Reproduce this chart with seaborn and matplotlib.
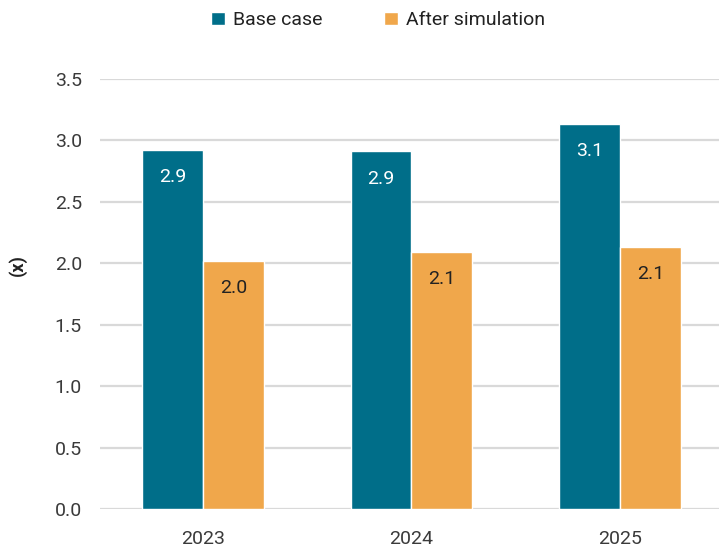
import matplotlib
matplotlib.use("Agg")
import matplotlib.pyplot as plt
import seaborn as sns
import pandas as pd

# Chart data
years = ["2023", "2024", "2025"]
base_case = [2.92, 2.91, 3.13]
after_sim = [2.02, 2.09, 2.13]
series_names = ["Base case", "After simulation"]

df = pd.DataFrame({
    "year": years * 2,
    "value": base_case + after_sim,
    "series": [series_names[0]] * 3 + [series_names[1]] * 3,
})

sns.set_style("white")
plt.rcParams["font.family"] = ["Roboto", "DejaVu Sans"]

fig = plt.figure(figsize=(7.19, 5.48), dpi=100)
ax = fig.add_axes([0.139, 0.0712, 0.861, 0.7848])

palette = {"Base case": "#006E89", "After simulation": "#F0A74B"}
sns.barplot(data=df, x="year", y="value", hue="series", palette=palette,
            width=0.585, saturation=1, ax=ax, zorder=3)

ax.set_ylim(0, 3.5)
ax.set_xlim(-0.495, 2.476)
ax.set_yticks([0, 0.5, 1.0, 1.5, 2.0, 2.5, 3.0, 3.5])
ax.set_yticklabels([f"{v:.1f}" for v in ax.get_yticks()])
ax.yaxis.grid(True, color="#D9D9D9", linewidth=1.6, zorder=0)
ax.tick_params(axis="both", length=0, labelsize=14, colors="#3a3a3a")
ax.tick_params(axis="x", pad=15)
ax.tick_params(axis="y", pad=13)
for s in ax.spines.values():
    s.set_visible(False)
ax.set_xlabel("")
ax.set_ylabel("(x)", fontsize=13, fontweight="bold", color="#222222")
ax.yaxis.set_label_coords(-0.118, 0.567)

# value labels inside the bars
for cont, col in zip(ax.containers, ["white", "#222222"]):
    ax.bar_label(cont, labels=[f"{b.get_height():.1f}" for b in cont],
                 padding=-26, color=col, fontsize=14)

handles, labels = ax.get_legend_handles_labels()
ax.get_legend().remove()
fig.legend(handles, labels, loc="center", bbox_to_anchor=(0.526, 0.963),
           ncol=2, frameon=False, fontsize=14, handlelength=0.7,
           handleheight=0.7, handletextpad=0.4, columnspacing=3.2,
           labelcolor="#222222")

fig.savefig("out.png", dpi=100)
